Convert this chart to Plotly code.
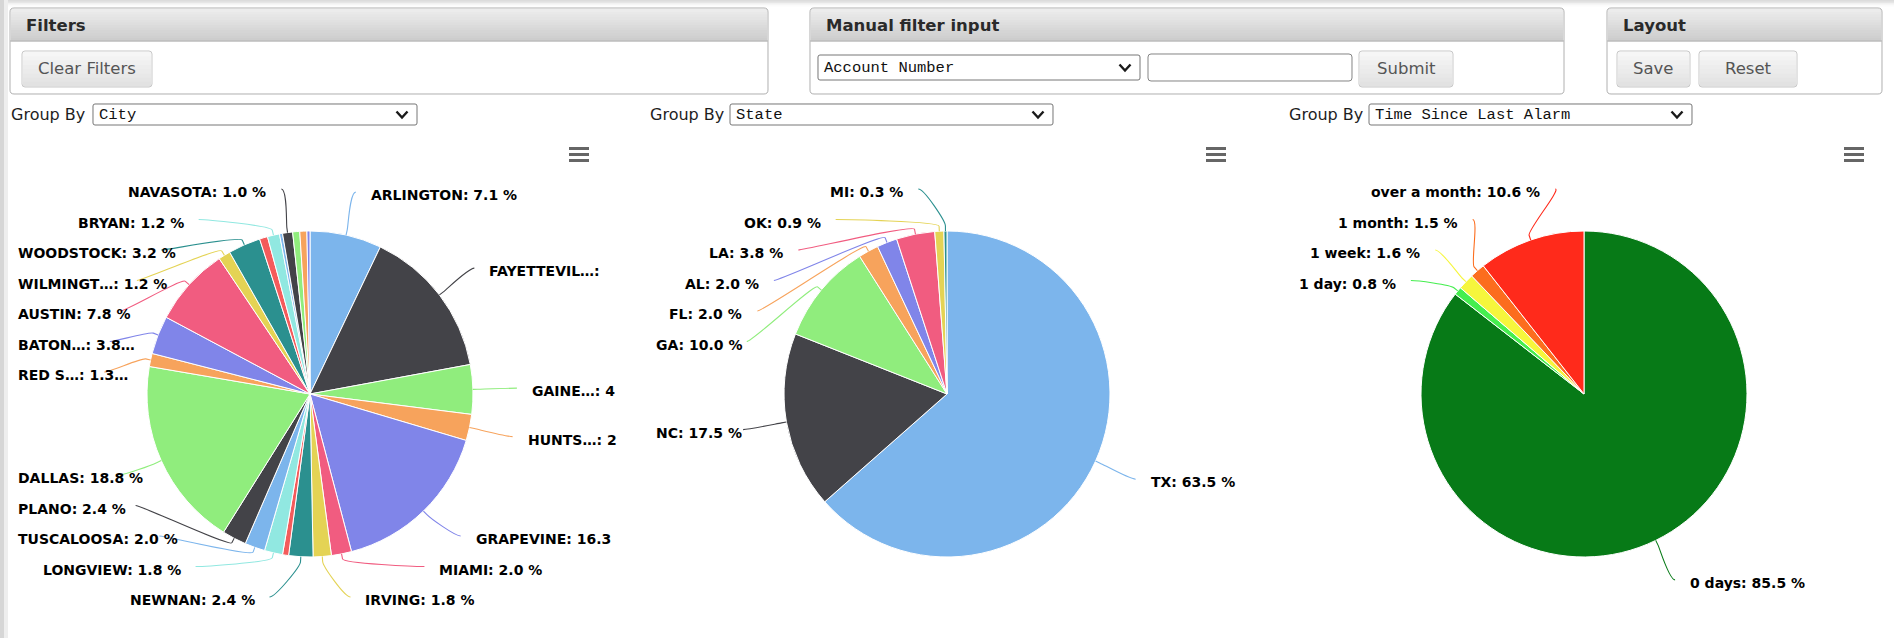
import math
import plotly.graph_objects as go

W, H = 1894, 638

# ---------------- data ----------------
city_names = ["ARLINGTON", "FAYETTEVIL…", "GAINE…", "HUNTS…", "GRAPEVINE", "MIAMI", "IRVING",
              "NEWNAN", "city 9", "LONGVIEW", "TUSCALOOSA", "PLANO", "DALLAS", "RED S…", "BATON…",
              "AUSTIN", "WILMINGT…", "WOODSTOCK", "city 19", "BRYAN", "city 21", "NAVASOTA",
              "city 23", "city 24", "city 25"]
city_values = [7.1, 15.0, 4.9, 2.6, 16.3, 2.0, 1.8, 2.4, 0.6, 1.8, 2.0, 2.4, 18.8, 1.3, 3.8,
               7.8, 1.2, 3.2, 0.8, 1.2, 0.3, 1.0, 0.7, 0.7, 0.3]
# label texts as they appear (cut off) in the reference
city_label_text = {"FAYETTEVIL…": "FAYETTEVIL…:", "GAINE…": "GAINE…: 4", "HUNTS…": "HUNTS…: 2",
                   "GRAPEVINE": "GRAPEVINE: 16.3", "RED S…": "RED S…: 1.3…",
                   "BATON…": "BATON…: 3.8…"}

state_names = ["TX", "NC", "GA", "FL", "AL", "LA", "OK", "MI"]
state_values = [63.5, 17.5, 10.0, 2.0, 2.0, 3.8, 0.9, 0.3]

time_names = ["0 days", "1 day", "1 week", "1 month", "over a month"]
time_values = [85.5, 0.8, 1.6, 1.5, 10.6]

group_by_options = ["City", "State", "Time Since Last Alarm"]

hc_colors = ['#7cb5ec', '#434348', '#90ed7d', '#f7a35c', '#8085e9',
             '#f15c80', '#e4d354', '#2b908f', '#f45b5b', '#91e8e1']
time_colors = ['#077a17', '#45ee4f', '#f6f63c', '#fc6d1e', '#ff2a1b']

# ---------------- helpers ----------------
def X(px):
    return px / W


def Y(py):
    return 1 - py / H


shapes = []
annotations = []


def add_rect(x0, y0, x1, y1, fill):
    shapes.append(dict(type='rect', xref='paper', yref='paper', x0=X(x0), x1=X(x1),
                       y0=Y(y1), y1=Y(y0), fillcolor=fill, line=dict(width=0), layer='above'))


def add_path(d, fill=None, line_color=None, lw=1):
    shapes.append(dict(type='path', xref='paper', yref='paper', path=d,
                       fillcolor=fill or 'rgba(0,0,0,0)',
                       line=dict(color=line_color or 'rgba(0,0,0,0)', width=lw if line_color else 0),
                       layer='above'))


def P(x, y):
    return f"{X(x):.6f},{Y(y):.6f}"


def rr(x0, y0, x1, y1, r):
    return (f"M{P(x0 + r, y0)} L{P(x1 - r, y0)} Q{P(x1, y0)} {P(x1, y0 + r)} "
            f"L{P(x1, y1 - r)} Q{P(x1, y1)} {P(x1 - r, y1)} L{P(x0 + r, y1)} "
            f"Q{P(x0, y1)} {P(x0, y1 - r)} L{P(x0, y0 + r)} Q{P(x0, y0)} {P(x0 + r, y0)} Z")


def hex2rgb(c):
    c = c.lstrip('#')
    return [int(c[i:i + 2], 16) for i in (0, 2, 4)]


def mix(c1, c2, t):
    a, b = hex2rgb(c1), hex2rgb(c2)
    return 'rgb(%d,%d,%d)' % tuple(round(a[i] + (b[i] - a[i]) * t) for i in range(3))


def vgrad(x0, y0, x1, y1, ctop, cbot, n):
    h = (y1 - y0) / n
    for k in range(n):
        add_rect(x0, y0 + k * h, x1, y0 + (k + 1) * h + 0.6, mix(ctop, cbot, k / max(n - 1, 1)))


def add_text(x, y, s, size=16, color='#222', family='DejaVu Sans', weight='normal',
             xanchor='left'):
    annotations.append(dict(xref='paper', yref='paper', x=X(x), y=Y(y), text=s, showarrow=False,
                            xanchor=xanchor, yanchor='middle', borderpad=0,
                            font=dict(size=size, color=color, family=family, weight=weight)))


# ---------------- page chrome ----------------
UI_FONT = 'DejaVu Sans'
vgrad(0, 0, W, 6, '#dcdcdc', '#fbfbfb', 4)
add_rect(0, 0, 4, H, '#d6d6d6')
add_rect(4, 0, 8, H, '#eeeeee')

PANEL_Y0, PANEL_Y1, HEAD_Y1 = 8, 94, 41


def panel(x0, x1, title):
    add_path(rr(x0, PANEL_Y0, x1, PANEL_Y1, 4), fill='white')
    vgrad(x0 + 1, PANEL_Y0 + 1, x1 - 1, HEAD_Y1, '#ececec', '#cdcdcd', 12)
    add_path(f"M{P(x0, HEAD_Y1)} L{P(x1, HEAD_Y1)}", line_color='#b3b3b3', lw=1)
    add_path(rr(x0, PANEL_Y0, x1, PANEL_Y1, 4), line_color='#b0b0b0', lw=1)
    add_text(x0 + 15, (PANEL_Y0 + HEAD_Y1) / 2 + 1, title, size=16.5, color='#2a2a2a',
             family=UI_FONT, weight='bold')


def button(x0, x1, label, y0=51, y1=87):
    vgrad(x0 + 1, y0 + 1, x1 - 1, y1 - 1, '#f6f6f6', '#e2e2e2', 8)
    add_path(rr(x0, y0, x1, y1, 3), line_color='#c8c8c8', lw=1)
    add_text((x0 + x1) / 2, (y0 + y1) / 2, label, size=16.5, color='#555', family=UI_FONT,
             xanchor='center')


def chevron(xc, yc):
    add_path(f"M{P(xc - 5.5, yc - 3)} L{P(xc, yc + 3)} L{P(xc + 5.5, yc - 3)}",
             line_color='#1a1a1a', lw=2.4)


def dropdown(x0, x1, y0, y1, text):
    add_path(rr(x0, y0, x1, y1, 2), fill='white', line_color='#767676', lw=1)
    add_text(x0 + 5, (y0 + y1) / 2 + 0.5, text, size=15.5, color='#111',
             family='Liberation Mono')
    chevron(x1 - 15, (y0 + y1) / 2)


panel(10, 768, 'Filters')
button(22, 152, 'Clear Filters')

panel(810, 1564, 'Manual filter input')
dropdown(818, 1140, 55, 80, 'Account Number')
add_path(rr(1148, 54, 1352, 81, 3), fill='white', line_color='#858585', lw=1)
button(1359, 1453, 'Submit')

panel(1607, 1882, 'Layout')
button(1617, 1690, 'Save')
button(1699, 1797, 'Reset')

GB_Y0, GB_Y1 = 104, 125
for gx, (dx0, dx1), opt in zip([10, 649, 1288], [(93, 417), (730, 1053), (1369, 1692)],
                               group_by_options):
    add_text(gx, (GB_Y0 + GB_Y1) / 2, 'Group By', size=16, color='#1e1e1e', family=UI_FONT)
    dropdown(dx0, dx1, GB_Y0, GB_Y1, opt)

# export menu icons
for hx in [579, 1216, 1854]:
    for hy in [148.5, 154.5, 160.5]:
        add_path(f"M{P(hx - 10, hy)} L{P(hx + 10, hy)}", line_color='#666666', lw=3)

# ---------------- pies with Highcharts-like labels ----------------
LABEL_SIZE = 14
SLOT = 30.5
CW = {'A': .774, 'B': .762, 'C': .734, 'D': .830, 'E': .683, 'F': .683, 'G': .821, 'H': .837,
      'I': .372, 'J': .372, 'K': .775, 'L': .637, 'M': .995, 'N': .837, 'O': .850, 'P': .733,
      'Q': .850, 'R': .770, 'S': .720, 'T': .682, 'U': .812, 'V': .774, 'W': 1.103, 'X': .771,
      'Y': .724, 'Z': .725, ' ': .348, '.': .380, ':': .400, '%': 1.002, '…': 1.0}


def text_width(s, size=LABEL_SIZE):
    w = 0
    for ch in s:
        if ch.isdigit():
            w += .696
        elif ch in CW:
            w += CW[ch]
        elif ch.islower():
            w += .66
        else:
            w += .7
    return w * size


def distribute(targets, size, lo, hi):
    order = sorted(range(len(targets)), key=lambda k: targets[k])
    boxes = [dict(t=[targets[k]], ids=[k], size=size) for k in order]
    while True:
        for b in boxes:
            mid = (min(b['t']) + max(b['t'])) / 2
            b['pos'] = min(max(lo, mid - b['size'] / 2), hi - b['size'])
        merged = False
        i = len(boxes) - 1
        while i > 0:
            if boxes[i - 1]['pos'] + boxes[i - 1]['size'] > boxes[i]['pos'] + 1e-6:
                a, b = boxes[i - 1], boxes[i]
                a['size'] += b['size']
                a['t'] += b['t']
                a['ids'] += b['ids']
                del boxes[i]
                merged = True
            i -= 1
        if not merged:
            break
    out = {}
    for b in boxes:
        for j, k in enumerate(b['ids']):
            out[k] = b['pos'] + size * j + size / 2
    return out


fig = go.Figure()


def pie_with_labels(names, values, colors, cx, cy, r, left_limit, min_pct=0.0, overrides=None):
    overrides = overrides or {}
    total = float(sum(values))
    fig.add_trace(go.Pie(
        labels=names, values=values, sort=False, direction='clockwise', rotation=0,
        marker=dict(colors=colors, line=dict(color='white', width=1)),
        textinfo='none', showlegend=False, hoverinfo='label+percent',
        domain=dict(x=[X(cx - r), X(cx + r)], y=[Y(cy + r), Y(cy - r)])))
    R = r + 44
    acc = 0.0
    pts = []
    for i, (n, v) in enumerate(zip(names, values)):
        mid = (acc + v / 2) / total * 2 * math.pi
        acc += v
        pct = v / total * 100
        if pct < min_pct:
            continue
        pts.append(dict(i=i, name=n, pct=pct, mid=mid, left=mid > math.pi,
                        ny=cy - R * math.cos(mid)))
    lo = cy - 205 - SLOT / 2
    hi = cy + 203 + SLOT / 2
    for side in (False, True):
        group = [p for p in pts if p['left'] == side]
        if not group:
            continue
        ys = distribute([p['ny'] for p in group], SLOT, lo, hi)
        sgn = -1 if side else 1
        for k, p in enumerate(group):
            y = ys[k]
            dy = y - cy
            dx = math.sqrt(max(R * R - dy * dy, 0))
            xl = cx + sgn * dx
            s, c = math.sin(p['mid']), math.cos(p['mid'])
            edge = (cx + r * s, cy - r * c)
            p2 = (cx + (r + 5) * s, cy - (r + 5) * c)
            c2 = (cx + (r + 10) * s, cy - (r + 10) * c)
            d = (f"M{P(xl, y)} C{P(xl - sgn * 6, y)} {P(*c2)} {P(*p2)} L{P(*edge)}")
            col = colors[p['i']]
            add_path(d, line_color=col, lw=1.1)
            txt = overrides.get(p['name'], f"{p['name']}: {p['pct']:.1f} %")
            ty = y + 3
            if side:
                tw = text_width(txt)
                xe = xl - 14
                if xe - tw < left_limit:
                    add_text(left_limit, ty, txt, size=LABEL_SIZE, color='#000',
                             weight='bold')
                else:
                    add_text(xe, ty, txt, size=LABEL_SIZE, color='#000', weight='bold',
                             xanchor='right')
            else:
                add_text(xl + 14, ty, txt, size=LABEL_SIZE, color='#000', weight='bold')


city_colors = [hc_colors[i % len(hc_colors)] for i in range(len(city_values))]
state_colors = [hc_colors[i % len(hc_colors)] for i in range(len(state_values))]

pie_with_labels(city_names, city_values, city_colors, 310, 394, 163, 17, min_pct=1.0,
                overrides=city_label_text)
pie_with_labels(state_names, state_values, state_colors, 947, 394, 163, 655)
pie_with_labels(time_names, time_values, time_colors, 1584, 394, 163, 1292)

fig.update_layout(width=W, height=H, autosize=False, margin=dict(l=0, r=0, t=0, b=0),
                  paper_bgcolor='white', plot_bgcolor='white', showlegend=False,
                  shapes=shapes, annotations=annotations,
                  font=dict(family='DejaVu Sans'))

fig.write_html("out.html", config={'displayModeBar': False})
